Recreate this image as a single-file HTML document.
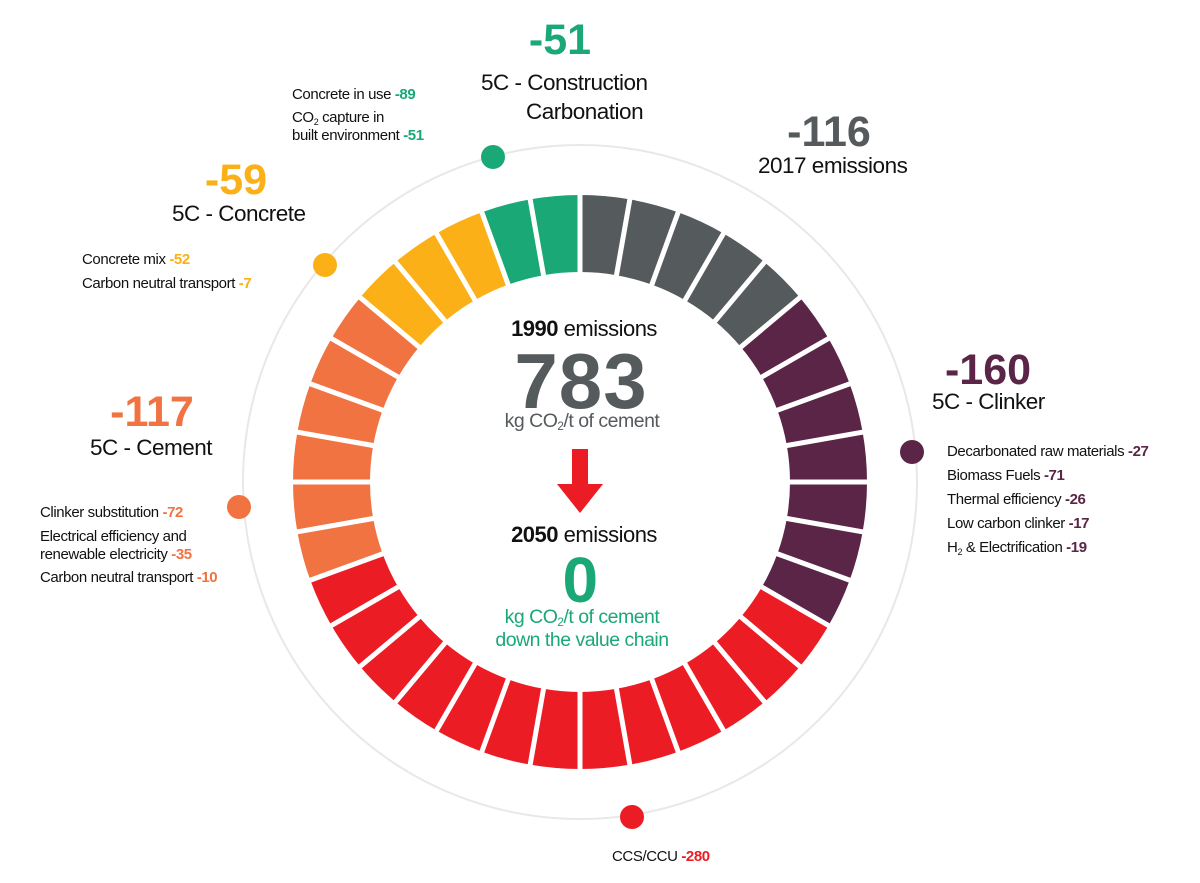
<!DOCTYPE html>
<html><head><meta charset="utf-8">
<style>
html,body{margin:0;padding:0;background:#fff;}
body{width:1200px;height:883px;position:relative;overflow:hidden;font-family:"Liberation Sans",sans-serif;color:#111;}
.t{position:absolute;white-space:nowrap;letter-spacing:-0.5px;}
.big{font-weight:bold;font-size:43px;letter-spacing:0px;}
.h{font-size:22.5px;}
.s{font-size:15px;letter-spacing:-0.4px;}
.s b{font-weight:bold;}
.c{transform:translateX(-50%);text-align:center;}
sub{font-size:60%;vertical-align:-3px;line-height:0;}
</style></head><body>
<svg id="sv" width="1200" height="883" style="position:absolute;left:0;top:0">
<circle cx="580" cy="482" r="337" fill="none" stroke="#e8e8e8" stroke-width="2"/>
<g id="segs"></g>
<circle cx="493" cy="157" r="12" fill="#1aa876"/>
<circle cx="325" cy="265" r="12" fill="#fbb017"/>
<circle cx="239" cy="507" r="12" fill="#f07341"/>
<circle cx="912" cy="452" r="12" fill="#5a2546"/>
<circle cx="632" cy="817" r="12" fill="#ec1c24"/>
<polygon points="572,449 588,449 588,484 603,484 580,513 557,484 572,484" fill="#ec1c24"/>
</svg>
<script>
(function(){
var cols=[];var spec=[["#555a5c",5],["#5a2546",7],["#ec1c24",13],["#f07341",6],["#fbb017",3],["#1aa876",2]];
spec.forEach(function(s){for(var i=0;i<s[1];i++)cols.push(s[0]);});
var cx=580,cy=482,r1=210,r2=287,g=document.getElementById('segs'),h='';
function p(r,a){a=a*Math.PI/180;return [(cx+r*Math.sin(a)).toFixed(2),(cy-r*Math.cos(a)).toFixed(2)];}
for(var i=0;i<36;i++){var a=i*10,b=a+10;var A=p(r2,a),B=p(r2,b),C=p(r1,b),D=p(r1,a);
h+='<path d="M'+A+' A'+r2+','+r2+' 0 0 1 '+B+' L'+C+' A'+r1+','+r1+' 0 0 0 '+D+' Z" fill="'+cols[i]+'"/>';}
for(var i=0;i<36;i++){var E=p(r1-2,i*10),F=p(r2+2,i*10);h+='<line x1="'+E[0]+'" y1="'+E[1]+'" x2="'+F[0]+'" y2="'+F[1]+'" stroke="#fff" stroke-width="5"/>';}
g.innerHTML=h;})();
</script>

<div class="t c" style="left:584px;top:316px;font-size:22px;"><b>1990</b> emissions</div>
<div class="t c" style="left:581px;top:336px;font-size:78px;font-weight:bold;color:#555a5c;letter-spacing:1px;">783</div>
<div class="t c" style="left:582px;top:410px;font-size:19.5px;color:#555a5c;">kg CO<sub>2</sub>/t of cement</div>
<div class="t c" style="left:584px;top:522px;font-size:22px;"><b>2050</b> emissions</div>
<div class="t c" style="left:580px;top:543px;font-size:64px;font-weight:bold;color:#1aa876;">0</div>
<div class="t c" style="left:582px;top:606px;font-size:19.5px;color:#1aa876;line-height:23px;">kg CO<sub>2</sub>/t of cement<br>down the value chain</div>

<div class="t c big" style="left:560px;top:16px;color:#1aa876;">-51</div>
<div class="t h" style="left:481px;top:70px;">5C - Construction</div>
<div class="t h" style="left:526px;top:99px;">Carbonation</div>

<div class="t c big" style="left:829px;top:108px;color:#555a5c;">-116</div>
<div class="t h" style="left:758px;top:153px;">2017 emissions</div>

<div class="t c big" style="left:236px;top:156px;color:#fbb017;">-59</div>
<div class="t h" style="left:172px;top:201px;">5C - Concrete</div>

<div class="t s" style="left:292px;top:86px;">Concrete in use <b style="color:#1aa876">-89</b></div>
<div class="t s" style="left:292px;top:109px;line-height:18px;">CO<sub>2</sub> capture in<br>built environment <b style="color:#1aa876">-51</b></div>

<div class="t s" style="left:82px;top:251px;">Concrete mix <b style="color:#fbb017">-52</b></div>
<div class="t s" style="left:82px;top:275px;">Carbon neutral transport <b style="color:#fbb017">-7</b></div>

<div class="t c big" style="left:152px;top:388px;color:#f07341;">-117</div>
<div class="t h" style="left:90px;top:435px;">5C - Cement</div>

<div class="t s" style="left:40px;top:504px;">Clinker substitution <b style="color:#f07341">-72</b></div>
<div class="t s" style="left:40px;top:528px;line-height:18px;">Electrical efficiency and<br>renewable electricity <b style="color:#f07341">-35</b></div>
<div class="t s" style="left:40px;top:569px;">Carbon neutral transport <b style="color:#f07341">-10</b></div>

<div class="t c big" style="left:988px;top:346px;color:#5a2546;">-160</div>
<div class="t h" style="left:932px;top:389px;">5C - Clinker</div>

<div class="t s" style="left:947px;top:443px;">Decarbonated raw materials <b style="color:#5a2546">-27</b></div>
<div class="t s" style="left:947px;top:467px;">Biomass Fuels <b style="color:#5a2546">-71</b></div>
<div class="t s" style="left:947px;top:491px;">Thermal efficiency <b style="color:#5a2546">-26</b></div>
<div class="t s" style="left:947px;top:515px;">Low carbon clinker <b style="color:#5a2546">-17</b></div>
<div class="t s" style="left:947px;top:539px;">H<sub>2</sub> &amp; Electrification <b style="color:#5a2546">-19</b></div>

<div class="t s" style="left:612px;top:848px;">CCS/CCU <b style="color:#ec1c24">-280</b></div>
</body></html>
